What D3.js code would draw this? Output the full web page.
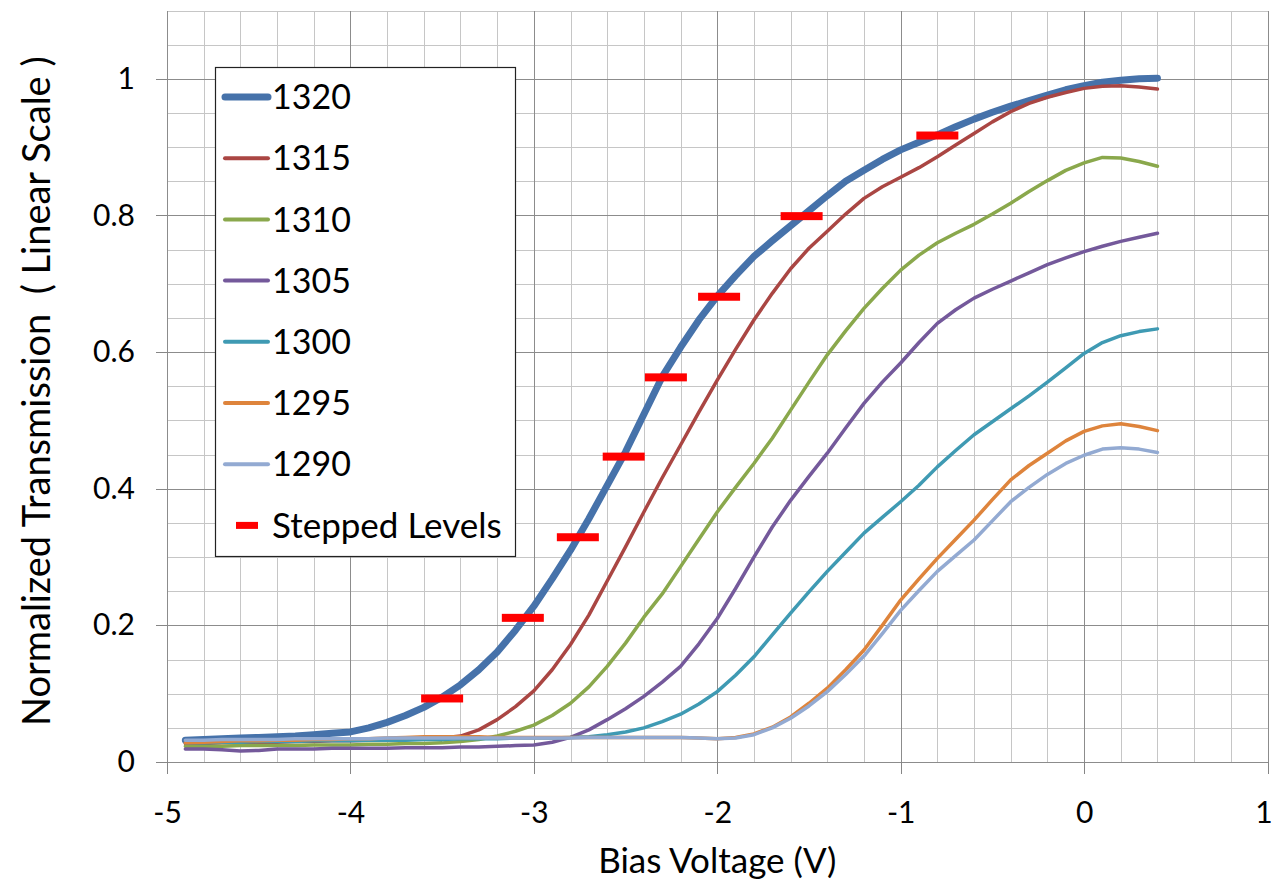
<!DOCTYPE html>
<html>
<head>
<meta charset="utf-8">
<script src="https://cdn.jsdelivr.net/npm/d3@7"></script>
<style>
  body { margin: 0; background: #fff; }
  svg { display: block; font-family: Lato, "Open Sans", sans-serif; }
  .grid line { shape-rendering: crispEdges; }
  .axis path { display: none; }
  .axis line { stroke: #868686; shape-rendering: crispEdges; }
  .axis text { fill: #000; }
</style>
</head>
<body>
<svg id="chart" width="1273" height="883"></svg>
<script>
// Bias sweep (V)
const voltages = [-4.9, -4.8, -4.7, -4.6, -4.5, -4.4, -4.3, -4.2, -4.1, -4.0,
    -3.9, -3.8, -3.7, -3.6, -3.5, -3.4, -3.3, -3.2, -3.1, -3.0,
    -2.9, -2.8, -2.7, -2.6, -2.5, -2.4, -2.3, -2.2, -2.1, -2.0,
    -1.9, -1.8, -1.7, -1.6, -1.5, -1.4, -1.3, -1.2, -1.1, -1.0,
    -0.9, -0.8, -0.7, -0.6, -0.5, -0.4, -0.3, -0.2, -0.1, 0.0,
    0.1, 0.2, 0.3, 0.4];

// Normalized transmission per wavelength (nm)
const t1320 = [0.032, 0.033, 0.034, 0.035, 0.036, 0.037, 0.038, 0.040, 0.042, 0.044,
    0.050, 0.058, 0.068, 0.080, 0.095, 0.113, 0.135, 0.161, 0.193, 0.228,
    0.268, 0.310, 0.356, 0.405, 0.454, 0.509, 0.564, 0.607, 0.647, 0.682,
    0.712, 0.740, 0.763, 0.785, 0.807, 0.829, 0.850, 0.866, 0.882, 0.896,
    0.907, 0.918, 0.930, 0.941, 0.951, 0.960, 0.968, 0.976, 0.984, 0.990,
    0.995, 0.998, 1.000, 1.001];
const t1315 = [0.027, 0.027, 0.028, 0.028, 0.029, 0.029, 0.030, 0.030, 0.031, 0.031,
    0.032, 0.032, 0.033, 0.034, 0.035, 0.038, 0.047, 0.062, 0.081, 0.104,
    0.135, 0.172, 0.215, 0.265, 0.315, 0.366, 0.416, 0.464, 0.512, 0.559,
    0.604, 0.647, 0.686, 0.722, 0.752, 0.777, 0.802, 0.825, 0.842, 0.856,
    0.870, 0.886, 0.903, 0.920, 0.937, 0.952, 0.964, 0.973, 0.980, 0.986,
    0.989, 0.990, 0.988, 0.985];
const t1310 = [0.023, 0.023, 0.023, 0.024, 0.024, 0.024, 0.024, 0.025, 0.025, 0.025,
    0.026, 0.026, 0.027, 0.027, 0.028, 0.030, 0.033, 0.038, 0.045, 0.054,
    0.068, 0.086, 0.110, 0.140, 0.174, 0.212, 0.246, 0.286, 0.326, 0.366,
    0.402, 0.437, 0.474, 0.515, 0.556, 0.596, 0.631, 0.664, 0.693, 0.720,
    0.742, 0.760, 0.774, 0.787, 0.802, 0.818, 0.835, 0.851, 0.866, 0.877,
    0.885, 0.884, 0.879, 0.872];
const t1305 = [0.019, 0.019, 0.018, 0.016, 0.017, 0.019, 0.019, 0.019, 0.020, 0.020,
    0.020, 0.020, 0.021, 0.021, 0.021, 0.022, 0.022, 0.023, 0.024, 0.025,
    0.029, 0.036, 0.047, 0.062, 0.078, 0.096, 0.117, 0.140, 0.173, 0.210,
    0.254, 0.300, 0.344, 0.383, 0.418, 0.452, 0.489, 0.525, 0.556, 0.584,
    0.614, 0.642, 0.662, 0.679, 0.692, 0.704, 0.716, 0.728, 0.738, 0.747,
    0.755, 0.762, 0.768, 0.774];
const t1300 = [0.028, 0.028, 0.029, 0.029, 0.030, 0.030, 0.030, 0.031, 0.031, 0.031,
    0.032, 0.032, 0.032, 0.033, 0.033, 0.034, 0.034, 0.034, 0.035, 0.035,
    0.035, 0.036, 0.037, 0.040, 0.044, 0.050, 0.059, 0.070, 0.085, 0.103,
    0.127, 0.154, 0.186, 0.218, 0.249, 0.279, 0.307, 0.335, 0.358, 0.381,
    0.405, 0.432, 0.456, 0.479, 0.498, 0.517, 0.536, 0.556, 0.577, 0.598,
    0.614, 0.624, 0.630, 0.634];
const t1295 = [0.028, 0.029, 0.030, 0.031, 0.031, 0.032, 0.032, 0.033, 0.033, 0.034,
    0.034, 0.035, 0.036, 0.037, 0.037, 0.037, 0.037, 0.036, 0.036, 0.036,
    0.036, 0.036, 0.036, 0.036, 0.036, 0.036, 0.036, 0.036, 0.035, 0.034,
    0.036, 0.041, 0.051, 0.066, 0.086, 0.108, 0.135, 0.164, 0.200, 0.237,
    0.268, 0.298, 0.326, 0.354, 0.384, 0.413, 0.434, 0.452, 0.470, 0.484,
    0.492, 0.495, 0.491, 0.485];
const t1290 = [0.032, 0.032, 0.033, 0.033, 0.033, 0.033, 0.034, 0.034, 0.034, 0.034,
    0.034, 0.035, 0.035, 0.035, 0.035, 0.035, 0.035, 0.035, 0.035, 0.035,
    0.035, 0.035, 0.036, 0.036, 0.036, 0.036, 0.036, 0.036, 0.035, 0.034,
    0.035, 0.040, 0.050, 0.064, 0.082, 0.103, 0.128, 0.155, 0.188, 0.222,
    0.251, 0.279, 0.302, 0.325, 0.353, 0.381, 0.402, 0.421, 0.437, 0.449,
    0.458, 0.460, 0.458, 0.453];

const seriesNames = ["1320", "1315", "1310", "1305", "1300", "1295", "1290"];
const seriesValues = [t1320, t1315, t1310, t1305, t1300, t1295, t1290];

// Stepped levels (red dashes)
const stepVoltages = [-3.50, -3.06, -2.76, -2.51, -2.28, -1.99, -1.54, -0.80];
const stepLevels = [0.093, 0.211, 0.329, 0.447, 0.563, 0.681, 0.799, 0.917];

const xTicks = [-5, -4, -3, -2, -1, 0, 1];
const yTicks = [0, 0.2, 0.4, 0.6, 0.8, 1];

const colors = ["#4672AA", "#AA4643", "#8AA84C", "#74599B", "#3F9AB3", "#DE843C", "#93AAD2"];
const widths = [7, 3.5, 3.5, 3.5, 3.5, 3.5, 3.5];

const svg = d3.select("#chart");
const plotLeft = 167, plotRight = 1267.5, plotTop = 10.5, plotBottom = 762;

const x = d3.scaleLinear().domain([-5, 1]).range([plotLeft, plotRight]);
const y = d3.scaleLinear().domain([0, 1.1]).range([plotBottom, plotTop]);

// Gridlines: minor first, then major
const minorX = d3.range(0, 31).map(i => -5 + i * 0.2).filter(v => Math.abs(v - Math.round(v)) > 1e-6);
const minorY = d3.range(0, 23).map(i => i * 0.05).filter(v => Math.abs(v / 0.2 - Math.round(v / 0.2)) > 1e-6);

const grid = svg.append("g").attr("class", "grid");
grid.selectAll(".minorx").data(minorX).enter().append("line")
    .attr("x1", d => Math.round(x(d)) + 0.5).attr("x2", d => Math.round(x(d)) + 0.5)
    .attr("y1", plotTop).attr("y2", plotBottom)
    .attr("stroke", "#c6c6c6").attr("stroke-width", 1.5);
grid.selectAll(".minory").data(minorY).enter().append("line")
    .attr("y1", d => Math.round(y(d)) + 0.5).attr("y2", d => Math.round(y(d)) + 0.5)
    .attr("x1", plotLeft).attr("x2", plotRight)
    .attr("stroke", "#c6c6c6").attr("stroke-width", 1.5);
grid.selectAll(".majorx").data(xTicks).enter().append("line")
    .attr("x1", d => Math.round(x(d)) + 0.5).attr("x2", d => Math.round(x(d)) + 0.5)
    .attr("y1", plotTop).attr("y2", plotBottom)
    .attr("stroke", "#8c8c8c").attr("stroke-width", 1.2);
grid.selectAll(".majory").data(yTicks).enter().append("line")
    .attr("y1", d => Math.round(y(d)) + 0.5).attr("y2", d => Math.round(y(d)) + 0.5)
    .attr("x1", plotLeft).attr("x2", plotRight)
    .attr("stroke", "#8c8c8c").attr("stroke-width", 1.2);

// Axes
const fmt = d => String(+d.toFixed(1));
svg.append("g").attr("class", "axis")
    .attr("transform", `translate(0,${plotBottom})`)
    .call(d3.axisBottom(x).tickValues(xTicks).tickSize(12).tickPadding(28).tickFormat(fmt))
    .call(g => g.selectAll("text").attr("font-size", 30).attr("font-family", "Lato")
        .attr("dx", d => d === 1 ? -4 : 0));
svg.append("g").attr("class", "axis")
    .attr("transform", `translate(${plotLeft},0)`)
    .call(d3.axisLeft(y).tickValues(yTicks).tickSize(11).tickPadding(21).tickFormat(fmt))
    .call(g => g.selectAll("text").attr("font-size", 30).attr("font-family", "Lato"));

// Axis titles
svg.append("text")
    .attr("x", (plotLeft + plotRight) / 2).attr("y", 873)
    .attr("text-anchor", "middle").attr("font-size", 35)
    .text("Bias Voltage (V)");
svg.append("text")
    .attr("transform", `translate(50,${(plotTop + plotBottom) / 2 + 5}) rotate(-90)`)
    .attr("text-anchor", "middle").attr("font-size", 38)
    .attr("xml:space", "preserve")
    .text("Normalized Transmission  ( Linear Scale )");

// Curves
const line = d3.line().x((d, i) => x(voltages[i])).y(d => y(d));
svg.append("g").selectAll("path")
    .data(seriesValues)
    .enter().append("path")
    .attr("d", d => line(d))
    .attr("fill", "none")
    .attr("stroke", (d, i) => colors[i])
    .attr("stroke-width", (d, i) => widths[i])
    .attr("stroke-linejoin", "round")
    .attr("stroke-linecap", "round");

// Stepped levels
const dashW = 42, dashH = 8;
svg.append("g").selectAll("rect")
    .data(stepLevels)
    .enter().append("rect")
    .attr("x", (d, i) => x(stepVoltages[i]) - dashW / 2)
    .attr("y", d => y(d) - dashH / 2)
    .attr("width", dashW).attr("height", dashH)
    .attr("fill", "#ff0000");

// Legend
const legend = svg.append("g");
legend.append("rect")
    .attr("x", 215.5).attr("y", 67.5).attr("width", 300).attr("height", 489)
    .attr("fill", "#fff").attr("stroke", "#222").attr("stroke-width", 1.2);
const rowY = i => 97 + i * 61.2;
seriesNames.forEach((name, i) => {
    legend.append("line")
        .attr("x1", 225).attr("x2", 268)
        .attr("y1", rowY(i)).attr("y2", rowY(i))
        .attr("stroke", colors[i]).attr("stroke-width", i === 0 ? 7 : 4)
        .attr("stroke-linecap", "round");
    legend.append("text")
        .attr("x", 272).attr("y", rowY(i))
        .attr("dy", "0.36em").attr("font-size", 34)
        .text(name);
});
legend.append("rect")
    .attr("x", 236).attr("y", rowY(7) - 3.5).attr("width", 22).attr("height", 7)
    .attr("fill", "#ff0000");
legend.append("text")
    .attr("x", 272).attr("y", rowY(7))
    .attr("dy", "0.36em").attr("font-size", 35)
    .text("Stepped Levels");
</script>
</body>
</html>
